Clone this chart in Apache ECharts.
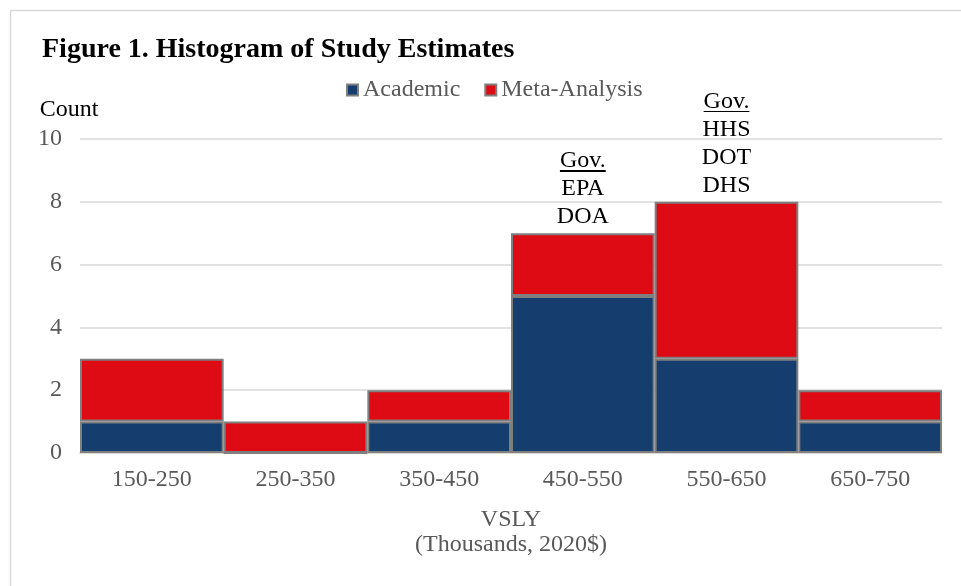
<!DOCTYPE html>
<html>
<head>
<meta charset="utf-8">
<script src="https://cdn.jsdelivr.net/npm/echarts@6/dist/echarts.min.js"></script>
<style>
html,body{margin:0;padding:0;background:#fff;}
#chart{width:961px;height:586px;}
</style>
</head>
<body>
<div id="chart"></div>
<script>
const categories = ['150-250','250-350','350-450','450-550','550-650','650-750'];
const academic = [1,0,1,5,3,1];
const metaAnalysis = [2,1,1,2,5,1];
const annotations = [null,null,null,['EPA','DOA'],['HHS','DOT','DHS']];
const yTicks = [0,2,4,6,8,10];

const FONT = '"Liberation Serif", "Times New Roman", serif';
const underline = {
  type:'linear', x:0, y:0, x2:0, y2:1,
  colorStops:[
    {offset:0, color:'rgba(0,0,0,0)'},
    {offset:0.885, color:'rgba(0,0,0,0)'},
    {offset:0.885, color:'#000'},
    {offset:0.945, color:'#000'},
    {offset:0.945, color:'rgba(0,0,0,0)'},
    {offset:1, color:'rgba(0,0,0,0)'}
  ]
};

const metaData = metaAnalysis.map((v,i)=>{
  const a = annotations[i];
  if(!a) return v;
  return {
    value:v,
    label:{
      show:true, position:'top', distance:2,
      formatter: '{u|Gov.}\n' + a.map(s=>'{t|'+s+'}').join('\n'),
      rich:{
        u:{fontFamily:FONT,fontSize:24,color:'#000',lineHeight:28,height:24,backgroundColor:underline},
        t:{fontFamily:FONT,fontSize:24,color:'#000',lineHeight:28}
      }
    }
  };
});

const chart = echarts.init(document.getElementById('chart'));
chart.setOption({
  animation:false,
  backgroundColor:'#fff',
  textStyle:{fontFamily:FONT},
  title:{
    text:'Figure 1. Histogram of Study Estimates',
    left:37, top:31,
    textStyle:{fontFamily:FONT,fontSize:28,fontWeight:'bold',color:'#000'}
  },
  graphic:[{
    type:'rect', silent:true,
    shape:{x:10.5,y:10.5,width:1000,height:1000},
    style:{fill:'none',stroke:'#d9d9d9',lineWidth:1.5}
  }],
  legend:{
    left:341, top:73,
    itemWidth:11, itemHeight:11, itemGap:24,
    icon:'rect',
    textStyle:{fontFamily:FONT,fontSize:24,color:'#595959'},
    data:['Academic','Meta-Analysis']
  },
  grid:{left:80,right:19,top:139,bottom:133,containLabel:false},
  xAxis:{
    type:'category',
    data:categories,
    axisLine:{show:true,lineStyle:{color:'#d9d9d9',width:1.5}},
    axisTick:{show:false},
    axisLabel:{fontFamily:FONT,fontSize:24,color:'#595959',margin:15},
    name:'VSLY\n(Thousands, 2020$)',
    nameLocation:'middle',
    nameGap:54,
    nameTextStyle:{fontFamily:FONT,fontSize:24,color:'#595959',lineHeight:25}
  },
  yAxis:{
    type:'value', min:0, max:10, interval:2,
    axisLine:{show:false},
    axisTick:{show:false},
    splitLine:{lineStyle:{color:'#d9d9d9',width:1.5}},
    axisLabel:{fontFamily:FONT,fontSize:24,color:'#595959',margin:18,
      formatter:v=>yTicks.includes(v)?String(v):''},
    name:'Count',
    nameLocation:'end',
    nameGap:17,
    nameTextStyle:{fontFamily:FONT,fontSize:24,color:'#000',align:'center',padding:[0,22,0,0]}
  },
  series:[
    {
      name:'Academic', type:'bar', stack:'s',
      data:academic,
      barCategoryGap:'0%',
      itemStyle:{color:'#153d6e',borderColor:'#7f7f7f',borderWidth:2}
    },
    {
      name:'Meta-Analysis', type:'bar', stack:'s',
      data:metaData,
      barCategoryGap:'0%',
      itemStyle:{color:'#de0a14',borderColor:'#7f7f7f',borderWidth:2}
    }
  ]
});
</script>
</body>
</html>
